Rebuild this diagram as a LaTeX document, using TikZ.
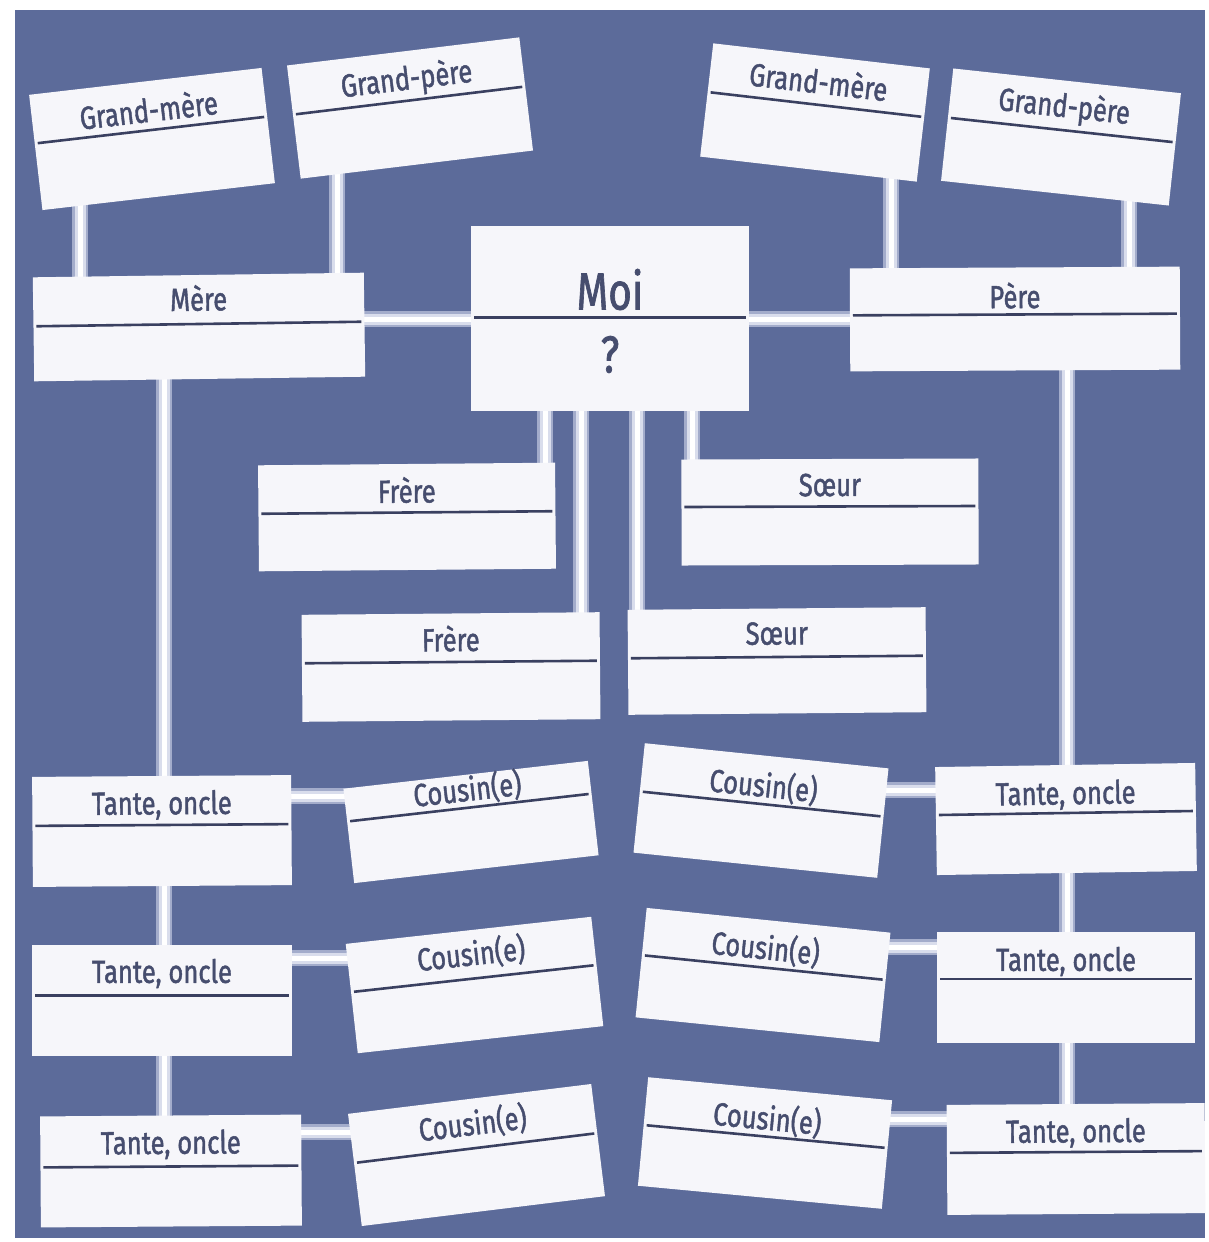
\documentclass[tikz,border=0pt]{standalone}
\usepackage{fontspec}
\setmainfont{Fira Sans}
\newfontfamily\handfont{Fira Sans}[FakeBold=1.6]
\usetikzlibrary{calc}
\definecolor{bgblue}{HTML}{5C6B9A}
\definecolor{cardfill}{HTML}{F6F6FA}
\definecolor{txtcol}{HTML}{464D6E}
\definecolor{divcol}{HTML}{3A4060}
\definecolor{connA}{HTML}{A3ACCB}
\definecolor{connB}{HTML}{D9DDEC}
\pgfdeclarelayer{bg}\pgfdeclarelayer{cn}\pgfsetlayers{bg,cn,main}
\tikzset{
 cardbox/.style={shape=rectangle, fill=cardfill, draw=none, inner sep=0pt, outer sep=0pt},
 divider/.style={draw=divcol, line width=2.6pt, shorten <=3pt, shorten >=3pt},
 lbl/.style={text=txtcol, inner sep=0pt, font=\handfont\fontsize{32}{36}\selectfont},
 biglbl/.style={text=txtcol, inner sep=0pt, font=\handfont\fontsize{52}{58}\selectfont},
 conn/.style={draw=connA, line width=16pt, postaction={draw=connB, line width=11pt}, postaction={draw=white, line width=5pt}},
}
% #1 name, #2 x, #3 y, #4 width, #5 height, #6 angle, #7 divider offset, #8 text offset, #9 label
\newcommand{\fcard}[9]{%
 \node[cardbox, minimum width=#4pt, minimum height=#5pt, rotate=#6] (#1) at (#2,#3) {};
 \draw[divider] ($(#1.north west)!{#7/#5}!(#1.south west)$) -- ($(#1.north east)!{#7/#5}!(#1.south east)$);
 \node[lbl, rotate=#6] (#1-t) at ($(#1.north)!{#8/#5}!(#1.south)$) {\scalebox{0.8}[1]{#9}};
}
\begin{document}
\begin{tikzpicture}[x=1pt,y=-1pt]
\useasboundingbox (0,0) rectangle (1208,1242);
\begin{pgfonlayer}{bg}
\fill[white] (0,0) rectangle (1208,1242);
\fill[bgblue] (15,10) rectangle (1205,1238);
\end{pgfonlayer}

% grandparents
\fcard{gml}{152}{139}{234}{116}{6.6}{49}{28}{Grand-mère}
\fcard{gpl}{410}{108}{234}{114}{6.9}{49.5}{29}{Grand-père}
\fcard{gmr}{815}{112.5}{218}{114}{-6.6}{49}{25}{Grand-mère}
\fcard{gpr}{1061}{137}{229}{113}{-6.2}{49.5}{27}{Grand-père}
% parents
\fcard{mere}{199}{327}{331}{104}{0.8}{49}{23}{Mère}
\fcard{pere}{1015}{319}{330}{103}{0.3}{47}{28}{Père}
% me
\node[cardbox, minimum width=278pt, minimum height=185pt] (moi) at (610,318) {};
\draw[divider] ($(moi.north west)!{92/185}!(moi.south west)$) -- ($(moi.north east)!{92/185}!(moi.south east)$);
\node[biglbl] (moi-t) at ($(moi.north)!{64/185}!(moi.south)$) {\scalebox{0.78}[1]{Moi}};
\node[biglbl] (moi-q) at ($(moi.north)!{129/185}!(moi.south)$) {\scalebox{0.78}[1]{?}};
% siblings
\fcard{frere1}{407}{517}{297}{106}{0.5}{48.5}{26}{Frère}
\fcard{soeur1}{830}{512}{297}{106}{0.2}{47.5}{26}{Sœur}
\fcard{frere2}{451}{667}{298}{107}{0.5}{48.5}{25}{Frère}
\fcard{soeur2}{777}{661}{298}{105}{0.5}{48.5}{25}{Sœur}
% aunts, uncles
\fcard{tl1}{162}{831}{259}{110}{0.4}{49}{29}{Tante, oncle}
\fcard{tl2}{162}{1000}{260}{111}{0}{51}{29}{Tante, oncle}
\fcard{tl3}{171}{1171}{261}{111}{0.4}{51}{29}{Tante, oncle}
\fcard{tr1}{1066}{819}{260}{108}{0.9}{48}{30}{Tante, oncle}
\fcard{tr2}{1066}{987}{258}{111}{0}{47.5}{30}{Tante, oncle}
\fcard{tr3}{1076}{1159}{258}{110}{0.4}{48}{29}{Tante, oncle}
% cousins
\fcard{cl1}{471}{822}{246}{95}{6.5}{33}{15}{Cousin(e)}
\fcard{cl2}{474.5}{985}{247}{110}{6.3}{48.5}{24}{Cousin(e)}
\fcard{cl3}{476.5}{1155}{245}{113}{7}{49.5}{25}{Cousin(e)}
\fcard{cr1}{761}{810.5}{245}{110}{-5.9}{48.5}{30}{Cousin(e)}
\fcard{cr2}{763}{975}{245}{110}{-5.8}{47.5}{28}{Cousin(e)}
\fcard{cr3}{765}{1143}{245}{109}{-5.4}{48}{30}{Cousin(e)}

% connectors
\begin{pgfonlayer}{cn}
\coordinate (xgml) at (80,0);
\coordinate (xgpl) at (337,0);
\coordinate (xgmr) at (891,0);
\coordinate (xgpr) at (1129,0);
\coordinate (ypar) at (0,319);
\coordinate (xf1) at (545,0);
\coordinate (xf2) at (581,0);
\coordinate (xs2) at (637,0);
\coordinate (xs1) at (692,0);
\coordinate (xlc) at (164,0);
\coordinate (xrc) at (1067,0);
\coordinate (yl1) at (0,796);
\coordinate (yl2) at (0,958);
\coordinate (yl3) at (0,1132);
\coordinate (yr1) at (0,790);
\coordinate (yr2) at (0,947);
\coordinate (yr3) at (0,1119);
\draw[conn] (gml.center -| xgml) -- (mere.center -| xgml);
\draw[conn] (gpl.center -| xgpl) -- (mere.center -| xgpl);
\draw[conn] (gmr.center -| xgmr) -- (pere.center -| xgmr);
\draw[conn] (gpr.center -| xgpr) -- (pere.center -| xgpr);
\draw[conn] (mere.center |- ypar) -- (moi.center |- ypar);
\draw[conn] (moi.center |- ypar) -- (pere.center |- ypar);
\draw[conn] (moi.center -| xf1) -- (frere1.center -| xf1);
\draw[conn] (moi.center -| xf2) -- (frere2.center -| xf2);
\draw[conn] (moi.center -| xs2) -- (soeur2.center -| xs2);
\draw[conn] (moi.center -| xs1) -- (soeur1.center -| xs1);
\draw[conn] (mere.center -| xlc) -- (tl1.center -| xlc);
\draw[conn] (tl1.center -| xlc) -- (tl2.center -| xlc);
\draw[conn] (tl2.center -| xlc) -- (tl3.center -| xlc);
\draw[conn] (pere.center -| xrc) -- (tr1.center -| xrc);
\draw[conn] (tr1.center -| xrc) -- (tr2.center -| xrc);
\draw[conn] (tr2.center -| xrc) -- (tr3.center -| xrc);
\draw[conn] (tl1.center |- yl1) -- (cl1.center |- yl1);
\draw[conn] (tl2.center |- yl2) -- (cl2.center |- yl2);
\draw[conn] (tl3.center |- yl3) -- (cl3.center |- yl3);
\draw[conn] (cr1.center |- yr1) -- (tr1.center |- yr1);
\draw[conn] (cr2.center |- yr2) -- (tr2.center |- yr2);
\draw[conn] (cr3.center |- yr3) -- (tr3.center |- yr3);
\end{pgfonlayer}
\end{tikzpicture}
\end{document}
